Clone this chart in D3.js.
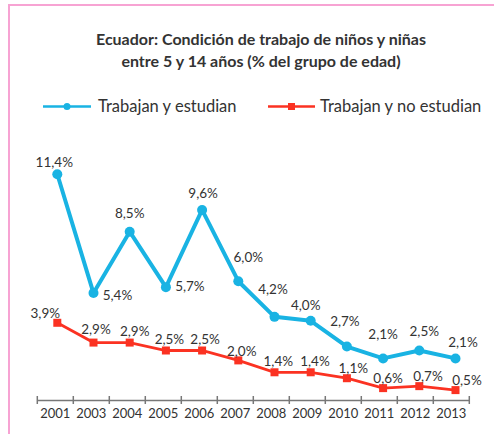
<!DOCTYPE html>
<html lang="es">
<head>
  <meta charset="utf-8">
  <title>Ecuador: trabajo infantil</title>
  <script src="https://d3js.org/d3.v7.min.js"></script>
  <style>
    body { margin: 0; background: #fff; }
    svg text { font-family: Lato, "Open Sans", sans-serif; fill: #333; }
  </style>
</head>
<body>
<div id="chart"></div>
<script>
// data
var years = ["2001", "2003", "2004", "2005", "2006", "2007", "2008", "2009", "2010", "2011", "2012", "2013"];
var trabajanEstudian = [11.4, 5.4, 8.5, 5.7, 9.6, 6.0, 4.2, 4.0, 2.7, 2.1, 2.5, 2.1];
var trabajanNoEstudian = [3.9, 2.9, 2.9, 2.5, 2.5, 2.0, 1.4, 1.4, 1.1, 0.6, 0.7, 0.5];
var seriesNames = ["Trabajan y estudian", "Trabajan y no estudian"];

// hand placed label offsets (label centre relative to the point)
var blueLabelOffsets = [[-3,-12],[24,2.5],[0,-18.5],[24,-0.5],[1,-17],[10,-24],[-1.5,-28],[-5,-16],[-2,-25.5],[0,-24.5],[5,-19],[7.5,-16]];
var redLabelOffsets = [[-12,-10],[2.5,-13.3],[5,-11],[3.5,-11.2],[3,-11.5],[3.4,-9.4],[3.8,-11.3],[4.3,-11.3],[6.4,-10],[5,-9.8],[8.7,-9.4],[11.5,-10]];

var width = 494, height = 434;
var blue = "#19b3e3", red = "#fb3222";

var svg = d3.select("#chart").append("svg")
  .attr("width", width)
  .attr("height", height);

// pink frame (top + left edge)
svg.append("path")
  .attr("d", "M9,434 V5 H494")
  .attr("fill", "none")
  .attr("stroke", "#f7a3d3")
  .attr("stroke-width", 2);

// title
var title = svg.append("text")
  .attr("text-anchor", "middle")
  .style("font-size", "16px")
  .style("font-weight", "bold");
title.append("tspan").attr("x", 261).attr("y", 44.5).text("Ecuador: Condición de trabajo de niños y niñas");
title.append("tspan").attr("x", 261).attr("y", 66.5).text("entre 5 y 14 años (% del grupo de edad)");

// legend
var legend = svg.append("g");
legend.append("line").attr("x1", 43).attr("x2", 91).attr("y1", 106.5).attr("y2", 106.5)
  .attr("stroke", blue).attr("stroke-width", 2.5);
legend.append("circle").attr("cx", 67).attr("cy", 106.5).attr("r", 3.5).attr("fill", blue);
legend.append("text").attr("x", 98).attr("y", 106.5).attr("dy", "0.35em")
  .style("font-size", "16.5px").text(seriesNames[0]);
legend.append("line").attr("x1", 268).attr("x2", 315).attr("y1", 106.5).attr("y2", 106.5)
  .attr("stroke", red).attr("stroke-width", 2.5);
legend.append("rect").attr("x", 288).attr("y", 103).attr("width", 7).attr("height", 7).attr("fill", red);
legend.append("text").attr("x", 320).attr("y", 106.5).attr("dy", "0.35em")
  .style("font-size", "16.5px").text(seriesNames[1]);

// scales
var axisY = 400;
var band = d3.scaleBand().domain(years).range([37.3, 469.3]);
var x = d3.scalePoint().domain(years).range([57.3, 455.5]);
var y = d3.scaleLinear().domain([0, 12]).range([400, 162.4]);

// x axis: labels centred in the bands, ticks on band edges
var xAxis = svg.append("g")
  .attr("transform", "translate(0," + axisY + ")")
  .call(d3.axisBottom(band).tickSize(0).tickPadding(10));
xAxis.select(".domain").attr("stroke", "#777").attr("stroke-width", 1.5);
xAxis.selectAll("text").style("font-size", "13px").attr("fill", "#333").attr("dy", "0.6em");

var edges = years.map(function(d) { return band(d); }).concat([band.range()[1]]);
xAxis.selectAll(".edge")
  .data(edges)
  .enter()
  .append("line")
    .attr("x1", function(d) { return d; })
    .attr("x2", function(d) { return d; })
    .attr("y1", -4)
    .attr("y2", 4)
    .attr("stroke", "#777")
    .attr("stroke-width", 1.5);

var line = d3.line()
  .x(function(d, i) { return x(years[i]); })
  .y(function(d) { return y(d); });

// blue series
svg.append("path")
  .datum(trabajanEstudian)
  .attr("d", line)
  .attr("fill", "none")
  .attr("stroke", blue)
  .attr("stroke-width", 4)
  .attr("stroke-linejoin", "round");

svg.selectAll(".dotBlue")
  .data(trabajanEstudian)
  .enter()
  .append("circle")
    .attr("cx", function(d, i) { return x(years[i]); })
    .attr("cy", function(d) { return y(d); })
    .attr("r", 5)
    .attr("fill", blue);

// red series
svg.append("path")
  .datum(trabajanNoEstudian)
  .attr("d", line)
  .attr("fill", "none")
  .attr("stroke", red)
  .attr("stroke-width", 2.8);

svg.selectAll(".sqRed")
  .data(trabajanNoEstudian)
  .enter()
  .append("rect")
    .attr("x", function(d, i) { return x(years[i]) - 4; })
    .attr("y", function(d) { return y(d) - 4; })
    .attr("width", 8)
    .attr("height", 8)
    .attr("fill", red);

// value labels
function fmt(v) { return v.toFixed(1).replace(".", ",") + "%"; }

svg.selectAll(".lblBlue")
  .data(trabajanEstudian)
  .enter()
  .append("text")
    .attr("x", function(d, i) { return x(years[i]) + blueLabelOffsets[i][0]; })
    .attr("y", function(d, i) { return y(d) + blueLabelOffsets[i][1]; })
    .attr("dy", "0.35em")
    .attr("text-anchor", "middle")
    .style("font-size", "13.5px")
    .text(fmt);

svg.selectAll(".lblRed")
  .data(trabajanNoEstudian)
  .enter()
  .append("text")
    .attr("x", function(d, i) { return x(years[i]) + redLabelOffsets[i][0]; })
    .attr("y", function(d, i) { return y(d) + redLabelOffsets[i][1]; })
    .attr("dy", "0.35em")
    .attr("text-anchor", "middle")
    .style("font-size", "13.5px")
    .text(fmt);
</script>
</body>
</html>
